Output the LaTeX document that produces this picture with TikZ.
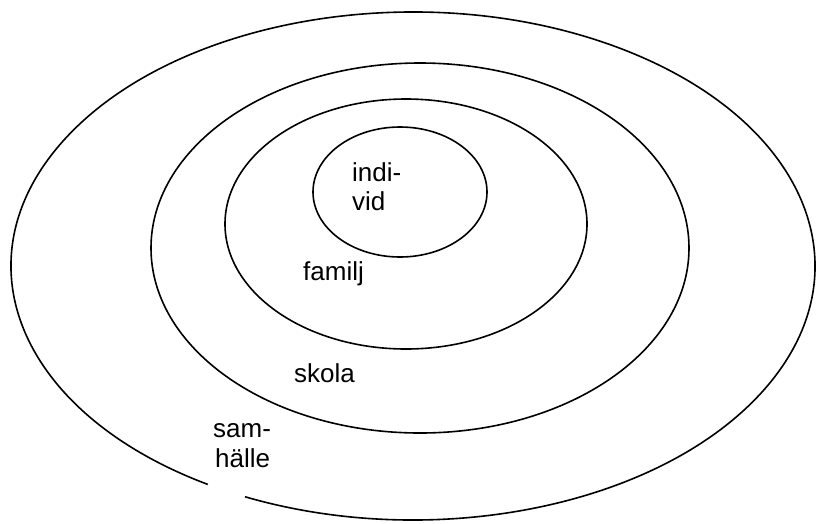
\documentclass[tikz,border=0pt]{standalone}
\usepackage{fontspec}
\setmainfont{Liberation Sans}
\begin{document}
\begin{tikzpicture}[x=1pt,y=-1pt,
  ring/.style={line width=1.6pt},
  lbl/.style={anchor=base west,inner sep=0pt,font=\fontsize{26}{30}\selectfont}]
\useasboundingbox[fill=white] (0,0) rectangle (817,523);
% outer ring with gap at lower left
\draw[ring] (413,266) ++(120.7:402 and 254)
  arc[start angle=120.7,end angle=474.7,x radius=402,y radius=254];
\draw[ring] (420,248) ellipse[x radius=269,y radius=185];
\draw[ring] (406,224) ellipse[x radius=181,y radius=125];
\draw[ring] (400,192) ellipse[x radius=87,y radius=65];
\node[lbl] (indi) at (352,181) {indi-};
\node[lbl] (vid) at (352,210) {vid};
\node[lbl] (familj) at (303,280) {familj};
\node[lbl] (skola) at (294,382) {skola};
\node[lbl] (sam) at (213,437) {sam-};
\node[lbl] (halle) at (215,467) {hälle};
\end{tikzpicture}
\end{document}
